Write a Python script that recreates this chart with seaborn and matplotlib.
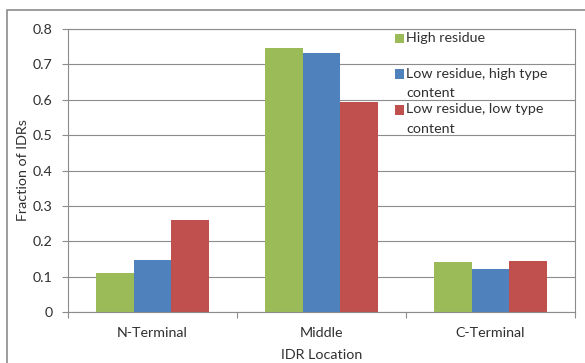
import matplotlib
matplotlib.use("Agg")
import matplotlib.pyplot as plt
import matplotlib.patches as mpatches
from matplotlib.legend_handler import HandlerPatch
from matplotlib.ticker import FixedLocator
import seaborn as sns
import pandas as pd

categories = ["N-Terminal", "Middle", "C-Terminal"]
series = ["High residue", "Low residue, high type content", "Low residue, low type content"]
legend_labels = ["High residue\n ", "Low residue, high type\ncontent", "Low residue, low type\ncontent"]
high_residue = [0.111, 0.745, 0.140]
low_res_high_type = [0.146, 0.731, 0.122]
low_res_low_type = [0.260, 0.594, 0.143]
y_ticks = [0, 0.1, 0.2, 0.3, 0.4, 0.5, 0.6, 0.7, 0.8]
y_tick_labels = ["0", "0.1", "0.2", "0.3", "0.4", "0.5", "0.6", "0.7", "0.8"]
colors = ["#9BBB59", "#4F81BD", "#C0504D"]

rows = []
for s, vals in zip(series, [high_residue, low_res_high_type, low_res_low_type]):
    for c, v in zip(categories, vals):
        rows.append({"Location": c, "Series": s, "Fraction": v})
df = pd.DataFrame(rows)

sns.set_style("white")
plt.rcParams["font.family"] = ["Lato", "DejaVu Sans"]
plt.rcParams["font.size"] = 10

fig = plt.figure(figsize=(5.85, 3.63), dpi=100)
ax = fig.add_axes([68 / 585, 1 - 312 / 363, (575 - 68) / 585, (312 - 29) / 363])

sns.barplot(data=df, x="Location", y="Fraction", hue="Series", order=categories,
            hue_order=series, palette=colors, width=0.667, linewidth=0,
            saturation=1, ax=ax)
handles, _ = ax.get_legend_handles_labels()
if ax.get_legend() is not None:
    ax.get_legend().remove()

grid_c = "#8C8C8C"
txt_c = "#303030"
ax.set_ylim(0, 0.8)
ax.set_xlim(-0.5, 2.5)
ax.yaxis.set_major_locator(FixedLocator(y_ticks))
ax.set_yticklabels(y_tick_labels)
ax.yaxis.grid(True, color=grid_c, linewidth=0.8)
ax.set_axisbelow(True)
for sp in ax.spines.values():
    sp.set_color(grid_c)
    sp.set_linewidth(0.8)
ax.xaxis.set_minor_locator(FixedLocator([-0.5, 0.5, 1.5, 2.5]))
ax.tick_params(axis="x", which="major", length=0, pad=11, labelsize=10.3, colors=txt_c)
ax.tick_params(axis="x", which="minor", length=4, width=0.8, color=grid_c, bottom=True)
ax.tick_params(axis="y", which="major", length=4, width=0.8, color=grid_c, left=True,
               pad=7, labelsize=10.3, labelcolor=txt_c)
ax.set_xlabel("IDR Location", fontsize=10.3, color=txt_c, labelpad=7)
ax.set_ylabel("Fraction of IDRs", fontsize=10.3, color=txt_c, labelpad=3)

shift = 6.6

def top_patch(legend, orig_handle, xdescent, ydescent, width, height, fontsize):
    return mpatches.Rectangle((-xdescent, -ydescent + shift), width, height)

leg = ax.legend(handles, legend_labels, loc="upper left",
                bbox_to_anchor=(395 / 585, 1 - 32 / 363), bbox_transform=fig.transFigure,
                frameon=False, borderpad=0, borderaxespad=0, labelspacing=0.3,
                handlelength=0.65, handleheight=0.65, handletextpad=0.15,
                fontsize=10.3, handler_map={mpatches.Rectangle: HandlerPatch(patch_func=top_patch)})
for t in leg.get_texts():
    t.set_linespacing(1.74)
    t.set_color(txt_c)

fig.patches.append(mpatches.Rectangle((7 / 585, -0.05), 1.1, 1 - 10 / 363 + 0.05,
                                      transform=fig.transFigure, fill=False,
                                      edgecolor="#8C8C8C", linewidth=1.2, zorder=10))

fig.savefig("out.png", dpi=100)
